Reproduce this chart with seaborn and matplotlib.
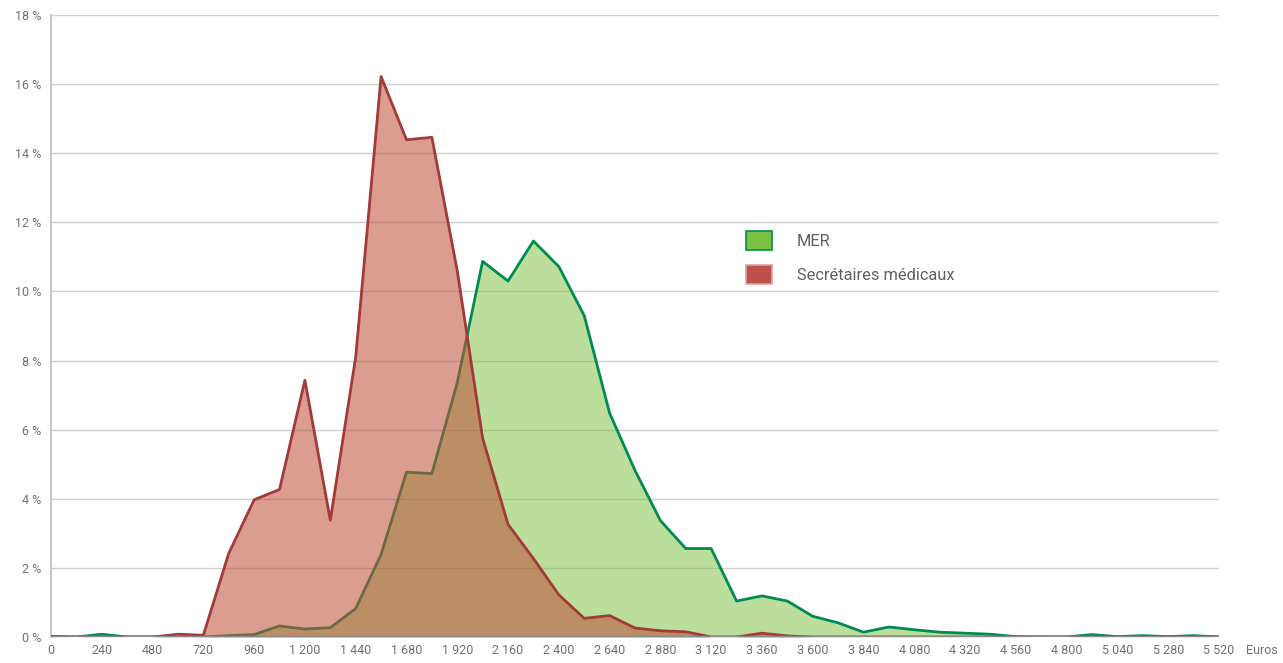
import numpy as np
import pandas as pd
import seaborn as sns
import matplotlib.pyplot as plt
from matplotlib.patches import Patch

# salaire mensuel (euros), pas de 120
euros = [0, 120, 240, 360, 480, 600, 720, 840, 960, 1080, 1200, 1320, 1440,
         1560, 1680, 1800, 1920, 2040, 2160, 2280, 2400, 2520, 2640, 2760,
         2880, 3000, 3120, 3240, 3360, 3480, 3600, 3720, 3840, 3960, 4080,
         4200, 4320, 4440, 4560, 4680, 4800, 4920, 5040, 5160, 5280, 5400, 5520]

# part des effectifs (%)
mer = [0.02, 0.0, 0.08, 0.0, 0.0, 0.0, 0.0, 0.04, 0.07, 0.32, 0.23, 0.27, 0.82,
       2.39, 4.77, 4.73, 7.36, 10.87, 10.3, 11.46, 10.72, 9.3, 6.48, 4.82,
       3.37, 2.56, 2.56, 1.04, 1.19, 1.04, 0.6, 0.41, 0.14, 0.29, 0.21,
       0.14, 0.11, 0.08, 0.01, 0.0, 0.0, 0.07, 0.01, 0.04, 0.01, 0.04, 0.0]

secretaires = [0.0, 0.0, 0.0, 0.0, 0.0, 0.08, 0.05, 2.42, 3.97, 4.27, 7.43, 3.38,
               8.10, 16.22, 14.39, 14.46, 10.6, 5.75, 3.26, 2.27, 1.22, 0.54,
               0.62, 0.26, 0.18, 0.15, 0.0, 0.0, 0.11, 0.03, 0.0, 0.0, 0.0,
               0.0, 0.0, 0.0, 0.0, 0.0, 0.0, 0.0, 0.0, 0.0, 0.0, 0.0, 0.0, 0.0, 0.0]

labels = ['MER', 'Secrétaires médicaux']

df = pd.DataFrame({'euros': euros, 'MER': mer, 'Secrétaires médicaux': secretaires})

sns.set_style('white')
plt.rcParams['font.family'] = ['Roboto', 'DejaVu Sans']

fig = plt.figure(figsize=(12.83, 6.63), dpi=100)
ax = fig.add_axes([51 / 1283, 26 / 663, 1168 / 1283, 622 / 663])

# MER d'abord, puis secrétaires par-dessus (transparence)
ax.fill_between(df['euros'], df['MER'], color='#7DC142', alpha=0.52, lw=0, zorder=2)
sns.lineplot(data=df, x='euros', y='MER', color='#008C50', lw=2, ax=ax, zorder=3)
ax.fill_between(df['euros'], df['Secrétaires médicaux'], color='#BE503A', alpha=0.56, lw=0, zorder=4)
sns.lineplot(data=df, x='euros', y='Secrétaires médicaux', color='#A23A3A', lw=2, ax=ax, zorder=5)

ax.set_xlim(0, 5520)
ax.set_ylim(0, 18)
ax.set_xticks(range(0, 5521, 240))
ax.set_xticklabels([f'{v:,}'.replace(',', ' ') for v in range(0, 5521, 240)])
ax.set_yticks(range(0, 19, 2))
ax.set_yticklabels([f'{v} %' for v in range(0, 19, 2)])
ax.tick_params(axis='x', length=0, pad=5, labelsize=9, labelcolor='#707070')
ax.tick_params(axis='y', length=4, width=1, color='#C8C8C8', pad=3, labelsize=9, labelcolor='#707070')
ax.set_xlabel('')
ax.set_ylabel('')

ax.grid(axis='y', color='#CFCFCF', lw=1)
ax.set_axisbelow(True)
for s in ['top', 'right', 'bottom']:
    ax.spines[s].set_visible(False)
ax.spines['left'].set_color('#C8C8C8')
ax.spines['left'].set_linewidth(1.5)
ax.axhline(0, color='#8A8A8A', lw=2.5, zorder=10)

fig.text(1246 / 1283, 1 - 651 / 663, 'Euros', fontsize=9, color='#707070', va='center', ha='left')

handles = [Patch(facecolor='#7DC142', edgecolor='#008C50', lw=1.2),
           Patch(facecolor='#C0504D', edgecolor='#E0A0A0', lw=1.2)]
ax.legend(handles, labels, loc='upper left', bbox_to_anchor=(746 / 1283, 1 - 231 / 663),
          bbox_transform=fig.transFigure, frameon=False, fontsize=11.8,
          handlelength=1.6, handleheight=1.4, handletextpad=1.5, labelspacing=0.95,
          borderpad=0, borderaxespad=0, labelcolor='#606060')

fig.savefig('out.png', dpi=100)
